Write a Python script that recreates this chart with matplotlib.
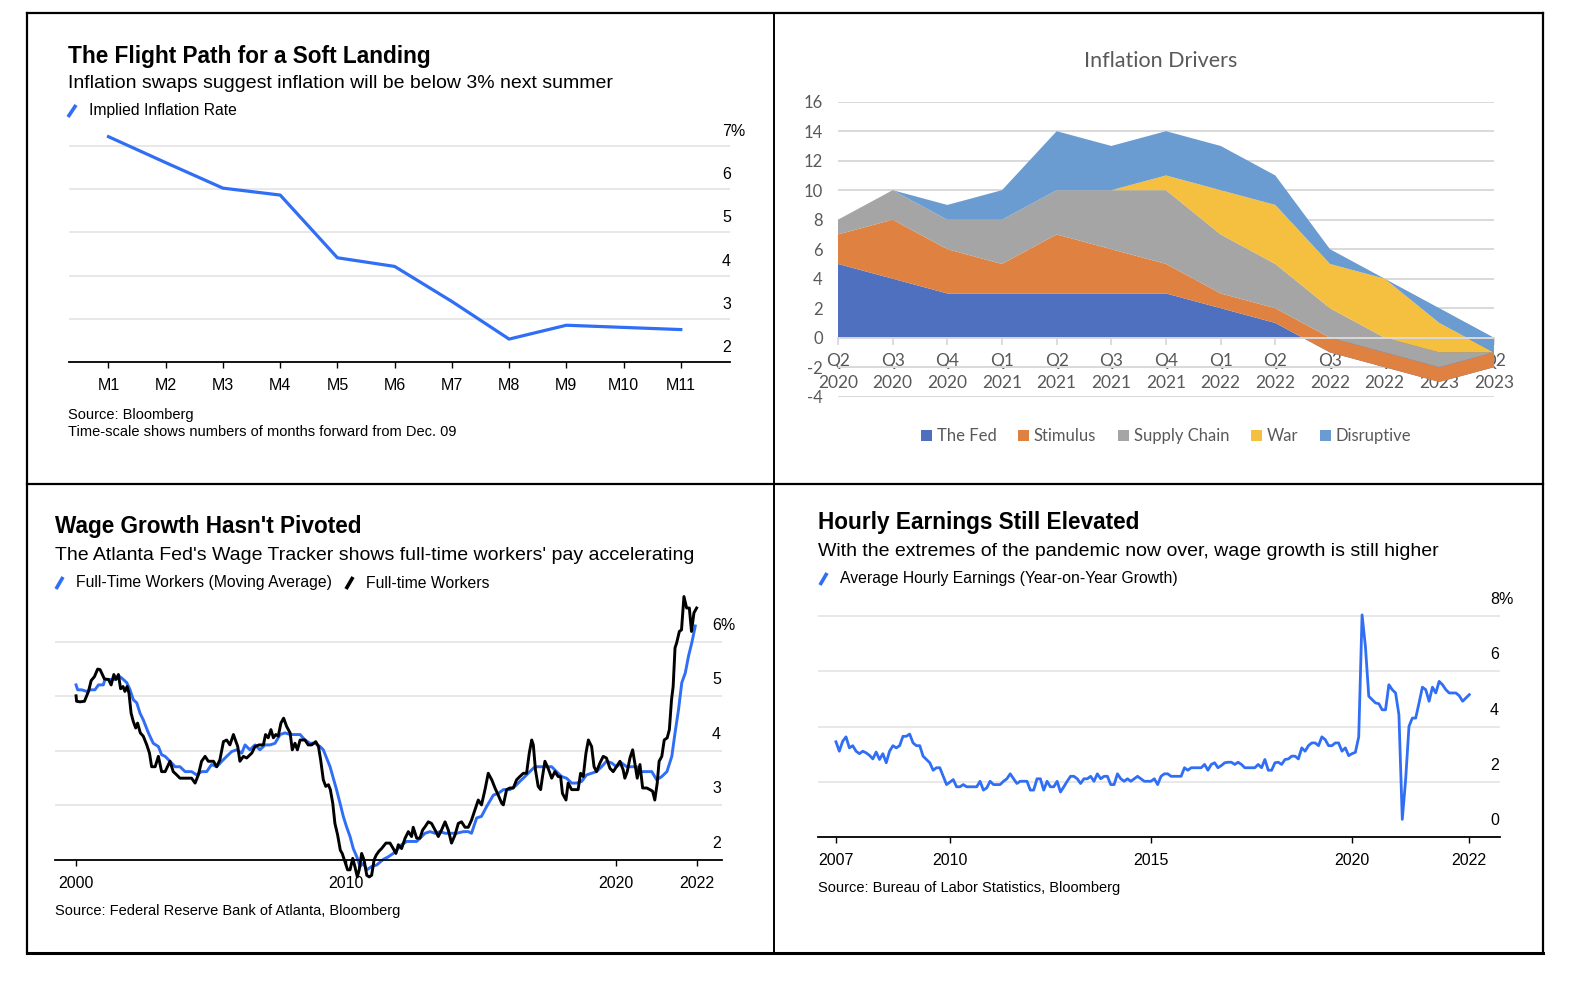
import matplotlib.pyplot as plt
import numpy as np
from matplotlib.lines import Line2D
from matplotlib.patches import Patch
from matplotlib.transforms import ScaledTranslation

plt.rcParams['font.family'] = ['Liberation Sans', 'DejaVu Sans']

W, H = 1574, 982
BLUE = '#2f6ef5'
GRID = '#e8e8e8'
XL_GREY = '#595959'
XL_GRID = '#d9d9d9'

# ---------------- data ----------------
# top left: implied inflation rate, months forward
months = ['M1', 'M2', 'M3', 'M4', 'M5', 'M6', 'M7', 'M8', 'M9', 'M10', 'M11']
implied_rate = [7.21, 6.61, 6.02, 5.86, 4.41, 4.21, 3.40, 2.53, 2.85, 2.80, 2.75]

# top right: inflation drivers (stacked)
quarters = ['Q2\n2020', 'Q3\n2020', 'Q4\n2020', 'Q1\n2021', 'Q2\n2021', 'Q3\n2021', 'Q4\n2021',
            'Q1\n2022', 'Q2\n2022', 'Q3\n2022', 'Q4\n2022', 'Q1\n2023', 'Q2\n2023']
driver_names = ['The Fed', 'Stimulus', 'Supply Chain', 'War', 'Disruptive']
the_fed = [5, 4, 3, 3, 3, 3, 3, 2, 1, -1, -2, -3, -2]
stimulus = [2, 4, 3, 2, 4, 3, 2, 1, 1, 1, 1, 1, 1]
supply_chain = [1, 2, 2, 3, 3, 4, 5, 4, 3, 2, 1, 1, 0]
war = [0, 0, 0, 0, 0, 0, 1, 3, 4, 3, 4, 2, 0]
disruptive = [0, 0, 1, 2, 4, 3, 3, 3, 2, 1, 0, 1, 1]
driver_colors = ['#4e70be', '#df8241', '#a5a5a5', '#f5c040', '#6a9bd1']

# bottom left: Atlanta Fed wage tracker, full-time workers
wage_years = [2000.00, 2000.02, 2000.15, 2000.31, 2000.46, 2000.56, 2000.68, 2000.80, 2000.89,
              2001.05, 2001.20, 2001.30, 2001.40, 2001.48, 2001.57, 2001.65, 2001.74, 2001.81,
              2001.89, 2001.96, 2002.04, 2002.12, 2002.21, 2002.28, 2002.38, 2002.49, 2002.62,
              2002.72, 2002.80, 2002.93, 2003.05, 2003.17, 2003.30, 2003.48, 2003.60, 2003.73,
              2003.85, 2004.04, 2004.28, 2004.41, 2004.53, 2004.65, 2004.78, 2004.90, 2005.09,
              2005.21, 2005.33, 2005.46, 2005.58, 2005.70, 2005.83, 2005.99, 2006.07, 2006.20,
              2006.32, 2006.51, 2006.63, 2006.78, 2006.94, 2007.02, 2007.12, 2007.22, 2007.31,
              2007.40, 2007.49, 2007.59, 2007.69, 2007.80, 2007.93, 2008.01, 2008.11, 2008.20,
              2008.30, 2008.48, 2008.60, 2008.73, 2008.88, 2008.98, 2009.06, 2009.16, 2009.25,
              2009.35, 2009.42, 2009.51, 2009.59, 2009.69, 2009.79, 2009.86, 2009.96, 2010.06,
              2010.15, 2010.25, 2010.33, 2010.42, 2010.49, 2010.58, 2010.67, 2010.77, 2010.86,
              2010.95, 2011.04, 2011.12, 2011.22, 2011.32, 2011.48, 2011.63, 2011.75, 2011.85,
              2011.94, 2012.06, 2012.19, 2012.31, 2012.43, 2012.49, 2012.62, 2012.74, 2012.84,
              2012.93, 2013.05, 2013.17, 2013.30, 2013.42, 2013.54, 2013.67, 2013.79, 2013.91,
              2014.04, 2014.16, 2014.28, 2014.41, 2014.53, 2014.65, 2014.78, 2014.90, 2015.02,
              2015.15, 2015.27, 2015.40, 2015.52, 2015.64, 2015.77, 2015.83, 2015.95, 2016.07,
              2016.20, 2016.32, 2016.44, 2016.57, 2016.69, 2016.79, 2016.88, 2016.94, 2017.02,
              2017.12, 2017.21, 2017.28, 2017.37, 2017.49, 2017.62, 2017.74, 2017.86, 2017.95,
              2018.02, 2018.15, 2018.23, 2018.36, 2018.48, 2018.60, 2018.69, 2018.79, 2018.89,
              2018.98, 2019.10, 2019.19, 2019.28, 2019.41, 2019.53, 2019.65, 2019.78, 2019.90,
              2020.02, 2020.15, 2020.27, 2020.33, 2020.42, 2020.52, 2020.62, 2020.70, 2020.79,
              2020.89, 2020.99, 2021.14, 2021.26, 2021.36, 2021.44, 2021.53, 2021.60, 2021.70,
              2021.79, 2021.90, 2021.98, 2022.06, 2022.12, 2022.19, 2022.25, 2022.35, 2022.43,
              2022.52, 2022.62, 2022.72, 2022.80, 2022.89, 2022.99]
wage_full = [5.01, 4.91, 4.90, 4.91, 5.09, 5.29, 5.36, 5.50, 5.49,
             5.32, 5.31, 5.21, 5.40, 5.31, 5.40, 5.14, 5.18, 5.09,
             5.18, 5.06, 4.69, 4.54, 4.42, 4.51, 4.33, 4.27, 4.11,
             3.96, 3.71, 3.71, 3.90, 3.62, 3.62, 3.81, 3.62, 3.56,
             3.50, 3.50, 3.50, 3.41, 3.56, 3.81, 3.90, 3.81, 3.81,
             3.71, 3.84, 4.17, 4.20, 4.11, 4.30, 4.08, 3.81, 3.90,
             3.87, 3.96, 4.08, 4.11, 4.11, 4.30, 4.24, 4.39, 4.24,
             4.30, 4.27, 4.51, 4.60, 4.45, 4.33, 4.02, 4.14, 4.02,
             4.20, 4.20, 4.11, 4.11, 4.17, 4.08, 3.84, 3.47, 3.35,
             3.38, 3.29, 3.04, 2.67, 2.46, 2.18, 2.12, 1.97, 1.82,
             1.82, 2.03, 1.88, 1.69, 1.82, 2.12, 2.00, 1.72, 1.69,
             1.72, 2.00, 2.09, 2.16, 2.21, 2.31, 2.31, 2.21, 2.12,
             2.28, 2.21, 2.40, 2.52, 2.43, 2.60, 2.40, 2.40, 2.55,
             2.61, 2.70, 2.67, 2.55, 2.43, 2.55, 2.70, 2.55, 2.31,
             2.46, 2.67, 2.70, 2.60, 2.60, 2.73, 2.92, 3.10, 3.01,
             3.29, 3.59, 3.47, 3.32, 3.19, 3.04, 3.01, 3.29, 3.32,
             3.32, 3.47, 3.53, 3.59, 3.59, 3.96, 4.20, 4.11, 3.65,
             3.35, 3.29, 3.53, 3.81, 3.68, 3.50, 3.62, 3.53, 3.53,
             3.22, 3.10, 3.41, 3.29, 3.29, 3.29, 3.59, 3.53, 3.96,
             4.20, 4.08, 3.71, 3.62, 3.78, 3.90, 3.87, 3.68, 3.62,
             3.71, 3.81, 3.65, 3.50, 3.62, 3.87, 4.02, 3.78, 3.50,
             3.75, 3.32, 3.32, 3.29, 3.26, 3.10, 3.41, 3.81, 3.90,
             4.20, 4.24, 4.39, 4.94, 5.18, 5.89, 5.98, 6.19, 6.22,
             6.83, 6.62, 6.62, 6.19, 6.53, 6.62]
ma_years = [2000.00, 2000.06, 2000.21, 2000.40, 2000.52, 2000.70, 2000.83, 2001.01, 2001.07,
            2001.26, 2001.44, 2001.63, 2001.75, 2001.88, 2002.00, 2002.12, 2002.25, 2002.37,
            2002.49, 2002.68, 2002.86, 2003.05, 2003.17, 2003.30, 2003.48, 2003.67, 2003.85,
            2004.04, 2004.28, 2004.47, 2004.65, 2004.84, 2005.02, 2005.21, 2005.40, 2005.58,
            2005.77, 2005.95, 2006.14, 2006.26, 2006.44, 2006.63, 2006.81, 2007.00, 2007.19,
            2007.37, 2007.56, 2007.74, 2007.93, 2008.11, 2008.30, 2008.48, 2008.67, 2008.85,
            2009.04, 2009.16, 2009.28, 2009.41, 2009.53, 2009.65, 2009.78, 2009.90, 2010.02,
            2010.15, 2010.27, 2010.40, 2010.52, 2010.64, 2010.77, 2010.95, 2011.14, 2011.38,
            2011.57, 2011.75, 2011.88, 2012.06, 2012.25, 2012.43, 2012.62, 2012.74, 2012.93,
            2013.11, 2013.30, 2013.48, 2013.67, 2013.85, 2014.10, 2014.35, 2014.53, 2014.65,
            2014.84, 2015.02, 2015.21, 2015.46, 2015.64, 2015.83, 2016.07, 2016.26, 2016.44,
            2016.63, 2016.81, 2017.00, 2017.19, 2017.37, 2017.62, 2017.80, 2017.99, 2018.17,
            2018.36, 2018.54, 2018.73, 2018.91, 2019.10, 2019.28, 2019.47, 2019.65, 2019.84,
            2020.02, 2020.21, 2020.40, 2020.58, 2020.77, 2020.95, 2021.14, 2021.33, 2021.51,
            2021.70, 2021.89, 2022.07, 2022.19, 2022.32, 2022.44, 2022.57, 2022.69, 2022.81,
            2022.94]
wage_ma = [5.21, 5.12, 5.12, 5.09, 5.12, 5.12, 5.21, 5.21, 5.31,
           5.31, 5.31, 5.36, 5.31, 5.25, 5.12, 4.94, 4.88, 4.69,
           4.57, 4.33, 4.14, 4.08, 3.93, 3.90, 3.81, 3.71, 3.71,
           3.62, 3.62, 3.56, 3.62, 3.62, 3.75, 3.71, 3.81, 3.90,
           3.99, 4.02, 3.96, 4.11, 4.02, 4.11, 4.02, 4.11, 4.11,
           4.14, 4.30, 4.33, 4.30, 4.30, 4.30, 4.20, 4.14, 4.14,
           4.08, 4.02, 3.87, 3.71, 3.50, 3.29, 3.04, 2.80, 2.61,
           2.43, 2.21, 2.06, 1.88, 1.94, 1.82, 1.88, 1.91, 2.01,
           2.06, 2.12, 2.18, 2.28, 2.34, 2.34, 2.34, 2.40, 2.49,
           2.52, 2.49, 2.52, 2.49, 2.49, 2.49, 2.52, 2.52, 2.49,
           2.77, 2.80, 2.98, 3.19, 3.22, 3.29, 3.29, 3.35, 3.44,
           3.53, 3.62, 3.71, 3.71, 3.71, 3.71, 3.62, 3.53, 3.50,
           3.41, 3.41, 3.44, 3.56, 3.59, 3.62, 3.71, 3.81, 3.78,
           3.71, 3.78, 3.71, 3.71, 3.71, 3.62, 3.62, 3.62, 3.47,
           3.53, 3.62, 3.90, 4.33, 4.76, 5.25, 5.43, 5.74, 5.98,
           6.29]

# bottom right: average hourly earnings, y/y %, monthly from Mar 2007
hourly_earnings = [
    3.45, 3.11, 3.47, 3.63, 3.23, 3.31, 3.11, 3.02, 3.11, 3.05,              # 2007
    2.96, 2.83, 3.08, 2.81, 3.02, 2.69, 3.11, 3.31, 3.23, 3.31, 3.65, 3.65,  # 2008
    3.73, 3.41, 3.31, 3.31, 2.93, 2.81, 2.69, 2.42, 2.51, 2.51, 2.20, 1.90,  # 2009
    1.99, 2.08, 1.82, 1.82, 1.90, 1.82, 1.82, 1.82, 1.82, 2.02, 1.70, 1.78,  # 2010
    2.02, 1.90, 1.90, 1.90, 2.02, 2.11, 2.29, 2.11, 1.94, 2.02, 2.02, 2.02,  # 2011
    1.70, 1.70, 2.11, 2.11, 1.70, 2.02, 1.82, 1.82, 2.02, 1.63, 1.82, 2.02,  # 2012
    2.20, 2.20, 2.11, 1.94, 2.11, 2.11, 2.20, 2.02, 2.29, 2.11, 2.20, 2.20,  # 2013
    1.90, 1.90, 2.29, 2.11, 2.02, 2.11, 2.02, 2.11, 2.20, 2.11, 2.02, 2.02,  # 2014
    2.02, 2.11, 1.90, 2.20, 2.29, 2.29, 2.20, 2.20, 2.20, 2.20, 2.51, 2.42,  # 2015
    2.51, 2.51, 2.51, 2.51, 2.63, 2.42, 2.63, 2.69, 2.51, 2.59, 2.69, 2.71,  # 2016
    2.71, 2.63, 2.71, 2.63, 2.51, 2.51, 2.51, 2.51, 2.63, 2.51, 2.81, 2.42,  # 2017
    2.42, 2.69, 2.71, 2.63, 2.81, 2.83, 2.93, 2.93, 2.83, 3.23, 3.11, 3.31,  # 2018
    3.41, 3.41, 3.31, 3.63, 3.53, 3.31, 3.31, 3.41, 3.41, 3.11, 3.23, 2.95,  # 2019
    3.02, 3.07, 3.63, 8.05, 6.90, 5.10, 4.98, 4.86, 4.83, 4.61, 4.61, 5.52,  # 2020
    5.34, 5.22, 4.43, 0.64, 2.08, 4.01, 4.31, 4.31, 4.86, 5.43, 5.34, 4.92,  # 2021
    5.43, 5.22, 5.64, 5.52, 5.34, 5.22, 5.22, 5.22, 5.12, 4.92, 5.04, 5.16,  # 2022
]

fig = plt.figure(figsize=(W / 100, H / 100), dpi=100)


def px_axes(left, top, right, bottom):
    return fig.add_axes([left / W, 1 - bottom / H, (right - left) / W, (bottom - top) / H])


def ftext(x, y, s, **kw):
    kw.setdefault('va', 'center')
    return fig.text(x / W, 1 - y / H, s, **kw)


def slash(x0, y0, x1, y1, color):
    fig.add_artist(Line2D([x0 / W, x1 / W], [1 - y0 / H, 1 - y1 / H], transform=fig.transFigure,
                          color=color, lw=2.6, solid_capstyle='butt'))


def bb_style(ax, yticks, ylabels, pad_px, lift_px):
    for s in ['top', 'left', 'right']:
        ax.spines[s].set_visible(False)
    ax.spines['bottom'].set_linewidth(1.3)
    ax.spines['bottom'].set_zorder(3)
    ax.grid(axis='y', color=GRID, lw=1.4)
    ax.set_axisbelow(True)
    ax.tick_params(axis='x', length=4, width=1, pad=7.5, labelsize=11.5)
    ax.yaxis.tick_right()
    ax.set_yticks(yticks)
    ax.set_yticklabels(ylabels)
    ax.tick_params(axis='y', length=0, pad=-pad_px * 0.72, labelsize=11.5)
    off = ScaledTranslation(0, lift_px / 100, fig.dpi_scale_trans)
    for t in ax.get_yticklabels():
        t.set_verticalalignment('baseline')
        t.set_transform(t.get_transform() + off)


# ---------------- top left ----------------
ax1 = px_axes(69, 125, 730, 362)
x1 = np.arange(1, len(months) + 1)
ax1.plot(x1, implied_rate, color=BLUE, lw=2.3, solid_joinstyle='round')
ax1.set_xlim(0.31, 11.86)
ax1.set_ylim(2, 7.48)
ax1.set_xticks(x1)
ax1.set_xticklabels(months)
bb_style(ax1, [2, 3, 4, 5, 6, 7], ['2', '3', '4', '5', '6', '7%'], 8, 10)

ftext(68, 56, 'The Flight Path for a Soft Landing', fontsize=16.3, fontweight='bold')
ftext(68, 83, 'Inflation swaps suggest inflation will be below 3% next summer', fontsize=14)
slash(68, 117, 76, 105, BLUE)
ftext(89, 111, 'Implied Inflation Rate', fontsize=11.3)
ftext(68, 415, 'Source: Bloomberg', fontsize=10.5)
ftext(68, 432, 'Time-scale shows numbers of months forward from Dec. 09', fontsize=10.5)

# ---------------- top right ----------------
ax2 = px_axes(838, 101.7, 1494, 396.7)
xq = np.arange(len(quarters))
ax2.stackplot(xq, the_fed, stimulus, supply_chain, war, disruptive,
              colors=driver_colors, labels=driver_names, lw=0)
ax2.set_xlim(0, len(quarters) - 1)
ax2.set_ylim(-4, 16)
for s in ['top', 'left', 'right']:
    ax2.spines[s].set_visible(False)
ax2.spines['bottom'].set_position(('data', 0))
ax2.spines['bottom'].set_color(XL_GRID)
ax2.spines['bottom'].set_linewidth(1.4)
ax2.grid(axis='y', color=XL_GRID, lw=1.4)
ax2.set_axisbelow(True)
ax2.set_xticks(xq)
ax2.set_xticklabels(quarters, linespacing=1.45)
ax2.tick_params(axis='x', length=5, width=1.3, color=XL_GRID, pad=6,
                labelsize=12.5, labelcolor=XL_GREY)
yq = np.arange(-4, 17, 2)
ax2.set_yticks(yq)
ax2.set_yticklabels([str(v) for v in yq])
ax2.tick_params(axis='y', length=0, pad=11, labelsize=12, labelcolor=XL_GREY)
for t in ax2.get_xticklabels() + ax2.get_yticklabels():
    t.set_family(['Lato', 'DejaVu Sans'])
ftext(1161, 61, 'Inflation Drivers', fontsize=15.5, color=XL_GREY, ha='center',
      family=['Lato', 'DejaVu Sans'])
handles = [Patch(facecolor=c, label=n) for c, n in zip(driver_colors, driver_names)]
leg = ax2.legend(handles=handles, loc='center', bbox_to_anchor=(1166 / W, 1 - 436 / H),
                 bbox_transform=fig.transFigure, ncol=5, frameon=False, handlelength=0.65,
                 handleheight=0.65, handletextpad=0.3, columnspacing=1.3,
                 prop={'family': ['Lato', 'DejaVu Sans'], 'size': 12}, labelcolor=XL_GREY)

# ---------------- bottom left ----------------
ax3 = px_axes(55, 590, 722, 860)
ax3.plot(ma_years, wage_ma, color=BLUE, lw=2.1, clip_on=False, zorder=2)
ax3.plot(wage_years, wage_full, color='black', lw=2.1, clip_on=False, zorder=2.1)
ax3.set_xlim(1999.22, 2023.93)
ax3.set_ylim(2, 6.95)
ax3.set_xticks([2000, 2010, 2020, wage_years[-1]])
ax3.set_xticklabels(['2000', '2010', '2020', '2022'])
bb_style(ax3, [2, 3, 4, 5, 6], ['2', '3', '4', '5', '6%'], 10, 12)

ftext(55, 527, "Wage Growth Hasn't Pivoted", fontsize=16.3, fontweight='bold')
ftext(55, 555, "The Atlanta Fed's Wage Tracker shows full-time workers' pay accelerating", fontsize=14)
slash(56, 589, 63, 577, BLUE)
ftext(76, 583, 'Full-Time Workers (Moving Average)', fontsize=11.3)
slash(346, 589, 353, 577, 'black')
ftext(366, 583, 'Full-time Workers', fontsize=11.3)
ftext(55, 911, 'Source: Federal Reserve Bank of Atlanta, Bloomberg', fontsize=10.5)

# ---------------- bottom right ----------------
ax4 = px_axes(818, 600, 1500, 837)
x4 = 2007 + (2 + np.arange(len(hourly_earnings))) / 12
ax4.plot(x4, hourly_earnings, color=BLUE, lw=2.0, solid_joinstyle='round')
ax4.set_xlim(2006.72, 2023.68)
ax4.set_ylim(0, 8.59)
ax4.set_xticks([x4[0], 2010, 2015, 2020, x4[-1]])
ax4.set_xticklabels(['2007', '2010', '2015', '2020', '2022'])
bb_style(ax4, [0, 2, 4, 6, 8], ['0', '2', '4', '6', '8%'], 10, 12)

ftext(818, 522, 'Hourly Earnings Still Elevated', fontsize=16.3, fontweight='bold')
ftext(818, 551, 'With the extremes of the pandemic now over, wage growth is still higher', fontsize=14)
slash(820, 585, 827, 573, BLUE)
ftext(840, 579, 'Average Hourly Earnings (Year-on-Year Growth)', fontsize=11.3)
ftext(818, 888, 'Source: Bureau of Labor Statistics, Bloomberg', fontsize=10.5)

# ---------------- panel frame ----------------
for (xa, ya, xb, yb, lw) in [(27, 13, 1543, 13, 1.6), (27, 953, 1543, 953, 2.2),
                              (27, 13, 27, 953, 1.6), (1543, 13, 1543, 953, 1.6),
                              (774, 13, 774, 953, 1.4), (27, 484, 1543, 484, 1.6)]:
    fig.add_artist(Line2D([xa / W, xb / W], [1 - ya / H, 1 - yb / H], transform=fig.transFigure,
                          color='black', lw=lw, solid_capstyle='projecting'))

fig.savefig('out.png', dpi=100, facecolor='white')
